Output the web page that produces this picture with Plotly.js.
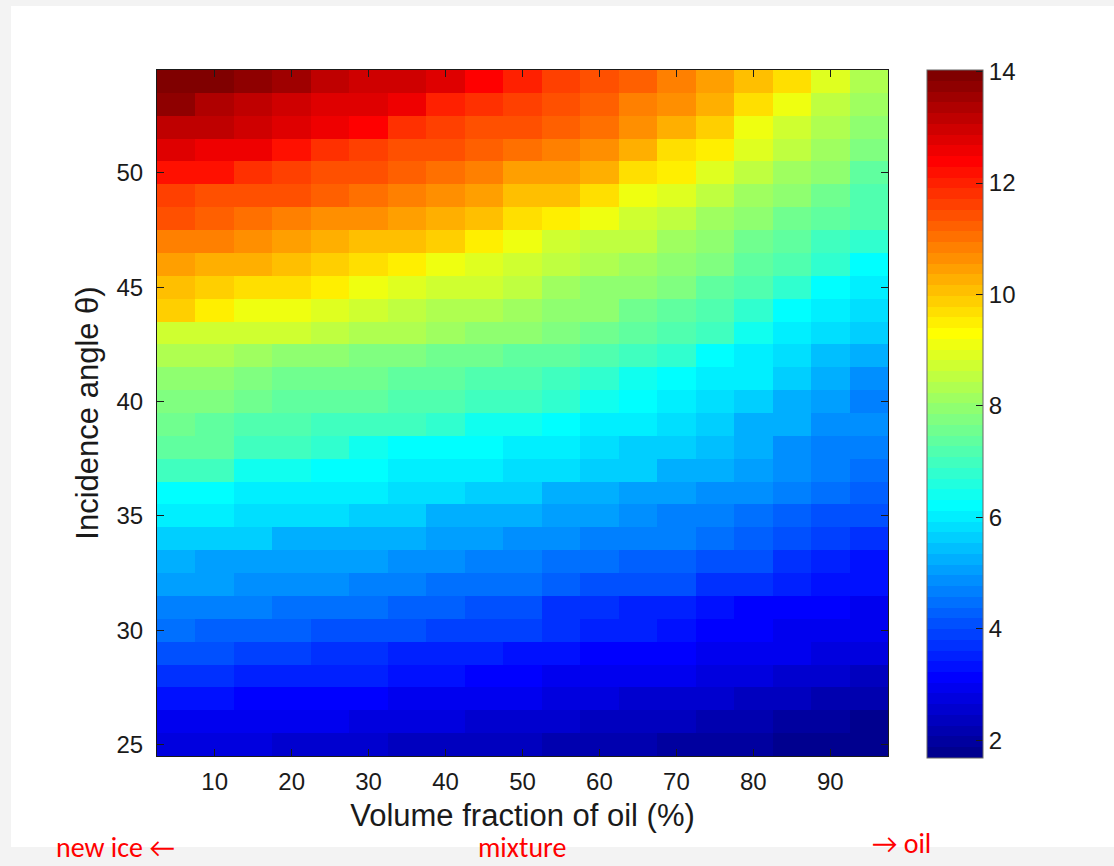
<!DOCTYPE html>
<html>
<head>
<meta charset="utf-8">
<script src="https://cdn.plot.ly/plotly-3.0.1.min.js"></script>
<style>
  html, body { margin:0; padding:0; background:#f3f3f3; width:1114px; height:866px; overflow:hidden; }
  #sheet { position:absolute; left:11px; top:6px; width:1103px; height:841px; background:#ffffff; }
  #chart { position:absolute; left:0; top:0; width:1114px; height:866px; }
</style>
</head>
<body>
<div id="sheet"></div>
<div id="chart"></div>
<script>
// ---- data ----
const oilFraction = [5,10,15,20,25,30,35,40,45,50,55,60,65,70,75,80,85,90,95];
const incidenceAngle = [25,26,27,28,29,30,31,32,33,34,35,36,37,38,39,40,41,42,43,44,45,46,47,48,49,50,51,52,53,54];
const xTickVals = [10,20,30,40,50,60,70,80,90];
const yTickVals = [25,30,35,40,45,50];
const cbTickVals = [2,4,6,8,10,12,14];

const row25 = [2.8,2.7,2.7,2.6,2.5,2.5,2.45,2.45,2.35,2.3,2.25,2.25,2.15,2.05,2.05,1.95,1.85,1.75,1.7];
const row26 = [3.0,2.95,2.95,2.85,2.85,2.8,2.7,2.7,2.6,2.55,2.5,2.45,2.35,2.35,2.25,2.15,2.05,1.95,1.85];
const row27 = [3.4,3.4,3.2,3.2,3.1,3.1,3.0,2.95,2.85,2.85,2.8,2.7,2.6,2.5,2.5,2.45,2.35,2.25,2.15];
const row28 = [3.7,3.7,3.6,3.6,3.5,3.5,3.4,3.3,3.2,3.2,3.0,3.0,2.95,2.85,2.8,2.7,2.6,2.5,2.45];
const row29 = [4.0,4.0,3.9,3.9,3.8,3.8,3.6,3.6,3.5,3.4,3.3,3.2,3.2,3.1,3.0,2.95,2.85,2.8,2.7];
const row30 = [4.4,4.2,4.2,4.2,4.0,4.0,4.0,3.9,3.9,3.85,3.7,3.6,3.5,3.3,3.2,3.1,3.0,2.95,2.85];
const row31 = [4.6,4.6,4.6,4.4,4.4,4.4,4.2,4.2,4.1,4.1,3.8,3.7,3.6,3.5,3.3,3.2,3.2,3.1,3.0];
const row32 = [5.0,5.0,4.8,4.8,4.8,4.6,4.6,4.5,4.5,4.4,4.3,4.1,4.1,4.0,3.8,3.8,3.6,3.4,3.3];
const row33 = [5.3,5.1,5.1,5.1,5.0,5.0,4.8,4.8,4.6,4.6,4.5,4.4,4.3,4.2,4.1,4.0,3.8,3.6,3.4];
const row34 = [5.6,5.6,5.6,5.3,5.3,5.2,5.2,5.0,5.0,4.95,4.9,4.7,4.7,4.6,4.4,4.3,4.1,3.9,3.8];
const row35 = [5.95,5.95,5.8,5.8,5.8,5.6,5.6,5.3,5.3,5.2,5.0,5.0,4.8,4.7,4.6,4.4,4.2,4.1,4.0];
const row36 = [6.3,6.3,6.1,6.1,5.95,5.95,5.8,5.8,5.6,5.6,5.3,5.2,5.0,5.0,4.9,4.8,4.6,4.5,4.3];
const row37 = [7.0,7.0,6.5,6.5,6.3,6.3,6.1,6.1,5.95,5.8,5.8,5.6,5.6,5.3,5.2,5.0,4.8,4.7,4.5];
const row38 = [7.35,7.35,7.0,7.0,6.8,6.5,6.3,6.3,6.3,6.1,5.95,5.8,5.6,5.6,5.4,5.3,4.8,4.7,4.6];
const row39 = [7.6,7.45,7.2,7.2,7.0,7.0,7.0,6.8,6.5,6.4,6.3,6.1,5.95,5.8,5.6,5.3,5.2,4.9,4.8];
const row40 = [7.75,7.75,7.55,7.35,7.35,7.35,7.2,7.2,7.0,6.9,6.8,6.5,6.3,6.1,5.8,5.6,5.3,5.1,4.75];
const row41 = [8.0,8.0,7.75,7.55,7.55,7.55,7.35,7.35,7.2,7.1,7.0,6.8,6.5,6.3,6.1,5.95,5.6,5.3,4.9];
const row42 = [8.4,8.4,8.2,8.0,8.0,7.75,7.75,7.55,7.55,7.45,7.35,7.2,7.0,6.8,6.3,6.1,5.8,5.4,5.2];
const row43 = [8.7,8.7,8.7,8.7,8.5,8.4,8.4,8.2,8.0,7.9,7.75,7.55,7.35,7.2,7.0,6.5,6.1,5.8,5.6];
const row44 = [9.9,9.4,9.1,9.1,8.95,8.7,8.5,8.4,8.4,8.2,8.0,7.9,7.55,7.35,7.2,6.7,6.3,6.1,5.8];
const row45 = [10.05,9.9,9.6,9.6,9.4,9.1,8.95,8.7,8.7,8.5,8.2,8.0,7.9,7.75,7.35,7.2,6.8,6.3,5.95];
const row46 = [10.5,10.2,10.2,10.0,9.8,9.6,9.4,9.1,8.9,8.7,8.5,8.4,8.2,7.9,7.75,7.35,7.2,6.8,6.3];
const row47 = [10.8,10.8,10.65,10.4,10.2,10.0,10.0,9.8,9.4,9.1,8.8,8.5,8.5,8.2,8.0,7.55,7.35,7.0,6.8];
const row48 = [11.35,11.2,11.0,10.8,10.65,10.65,10.4,10.2,10.0,9.7,9.4,9.1,8.8,8.5,8.2,8.0,7.55,7.35,7.2];
const row49 = [11.7,11.5,11.35,11.35,11.2,11.0,10.8,10.65,10.4,10.15,10.0,9.7,9.2,9.0,8.5,8.2,7.9,7.55,7.2];
const row50 = [12.15,12.15,11.9,11.7,11.5,11.35,11.2,11.0,10.8,10.5,10.4,10.2,9.7,9.4,8.95,8.5,8.2,7.9,7.3];
const row51 = [12.75,12.5,12.55,12.15,11.85,11.7,11.5,11.35,11.2,11.1,10.8,10.65,10.2,9.7,9.4,8.95,8.5,8.1,7.7];
const row52 = [13.1,13.15,13.0,12.75,12.5,12.3,11.9,11.7,11.5,11.4,11.2,11.0,10.65,10.2,9.8,9.2,8.8,8.3,7.9];
const row53 = [13.8,13.4,13.2,13.0,12.85,12.75,12.5,12.1,11.9,11.7,11.45,11.3,10.85,10.65,10.2,9.7,9.2,8.6,8.2];
const row54 = [14.0,14.0,13.8,13.6,13.2,13.05,12.9,12.75,12.3,12.0,11.7,11.5,11.2,10.85,10.5,10.1,9.6,9.0,8.4];

const zRows = [row25,row26,row27,row28,row29,row30,row31,row32,row33,row34,row35,row36,row37,row38,row39,
               row40,row41,row42,row43,row44,row45,row46,row47,row48,row49,row50,row51,row52,row53,row54];

const zMin = 1.68, zMax = 14.03;

// ---- MATLAB-style jet(64) discrete colour scale ----
function clamp01(v){ return Math.max(0, Math.min(1, v)); }
function jet(t){
  const r = clamp01(Math.min(4*t - 1.5, -4*t + 4.5));
  const g = clamp01(Math.min(4*t - 0.5, -4*t + 3.5));
  const b = clamp01(Math.min(4*t + 0.5, -4*t + 2.5));
  return 'rgb(' + Math.round(r*255) + ',' + Math.round(g*255) + ',' + Math.round(b*255) + ')';
}
const N = 64;
const jetScale = [];
for (let k = 0; k < N; k++) {
  const c = jet((k + 1) / N);
  jetScale.push([k / N, c]);
  jetScale.push([(k + 1) / N, c]);
}

// ---- geometry (pixels in the 1114x866 page) ----
const W = 1114, H = 866;
const plotL = 157, plotR = 888, plotT = 70, plotB = 755.7;
const plotW = plotR - plotL, plotH = plotB - plotT;
const px = v => (v - plotL) / plotW;
const py = v => (plotB - v) / plotH;

// colour bar box
const cbL = 927, cbThick = 56, cbTop = 70, cbLen = 688;
const cbValToPix = v => cbTop + cbLen - (v - zMin) / (zMax - zMin) * cbLen;

const FONT = 'Liberation Sans, Arial, Helvetica, sans-serif';
const RED_FONT = 'Carlito, Calibri, Liberation Sans Narrow, DejaVu Sans Condensed, Liberation Sans, sans-serif';
const ink = '#1a1a1a';

const trace = {
  type: 'heatmap',
  x: oilFraction,
  y: incidenceAngle,
  z: zRows,
  zmin: zMin,
  zmax: zMax,
  zsmooth: false,
  colorscale: jetScale,
  hoverinfo: 'skip',
  colorbar: {
    x: px(cbL), xanchor: 'left', xpad: 0,
    y: 1, yanchor: 'top', ypad: 0,
    len: cbLen, lenmode: 'pixels',
    thickness: cbThick, thicknessmode: 'pixels',
    outlinewidth: 1, outlinecolor: '#666',
    tickmode: 'array', tickvals: cbTickVals, ticktext: cbTickVals.map(String),
    ticks: 'inside', ticklen: 7, tickwidth: 1, tickcolor: ink,
    tickfont: { family: FONT, size: 24, color: ink }
  }
};

// left-side ticks of the colour bar (MATLAB draws them on both sides)
const cbLeftTicks = cbTickVals.map(v => ({
  type: 'line', xref: 'paper', yref: 'paper', layer: 'above',
  x0: px(cbL), x1: px(cbL + 7),
  y0: py(cbValToPix(v)), y1: py(cbValToPix(v)),
  line: { color: ink, width: 1 }
}));

const layout = {
  width: W, height: H,
  margin: { l: plotL, r: W - plotR, t: plotT, b: H - plotB, pad: 0 },
  paper_bgcolor: 'rgba(0,0,0,0)',
  plot_bgcolor: '#ffffff',
  showlegend: false,
  xaxis: {
    range: [2.5, 97.5],
    tickmode: 'array', tickvals: xTickVals, ticktext: xTickVals.map(String),
    ticks: 'inside', ticklen: 7, tickwidth: 1, tickcolor: ink,
    showline: true, linecolor: ink, linewidth: 1, mirror: 'ticks',
    showgrid: false, zeroline: false,
    tickfont: { family: FONT, size: 24, color: ink },
    ticklabelstandoff: 4,
    title: { text: 'Volume fraction of oil (%)', font: { family: FONT, size: 31, color: ink }, standoff: 10 },
    automargin: false
  },
  yaxis: {
    range: [24.5, 54.5],
    tickmode: 'array', tickvals: yTickVals, ticktext: yTickVals.map(String),
    ticks: 'inside', ticklen: 7, tickwidth: 1, tickcolor: ink,
    showline: true, linecolor: ink, linewidth: 1, mirror: 'ticks',
    showgrid: false, zeroline: false,
    tickfont: { family: FONT, size: 24, color: ink },
    ticklabelstandoff: 8,
    title: { text: 'Incidence angle θ)', font: { family: FONT, size: 31, color: ink }, standoff: 8 },
    automargin: false
  },
  shapes: cbLeftTicks,
  annotations: [
    { text: 'new ice ←', xref: 'paper', yref: 'paper', x: px(115), y: py(866), xanchor: 'center', yanchor: 'bottom',
      showarrow: false, font: { family: RED_FONT, size: 28, color: '#ff0000' }, borderpad: 0 },
    { text: 'mixture', xref: 'paper', yref: 'paper', x: px(522), y: py(866), xanchor: 'center', yanchor: 'bottom',
      showarrow: false, font: { family: RED_FONT, size: 28, color: '#ff0000' }, borderpad: 0 },
    { text: '→ oil', xref: 'paper', yref: 'paper', x: px(901), y: py(862), xanchor: 'center', yanchor: 'bottom',
      showarrow: false, font: { family: RED_FONT, size: 28, color: '#ff0000' }, borderpad: 0 }
  ]
};

Plotly.newPlot('chart', [trace], layout, { staticPlot: true, displayModeBar: false });
</script>
</body>
</html>
